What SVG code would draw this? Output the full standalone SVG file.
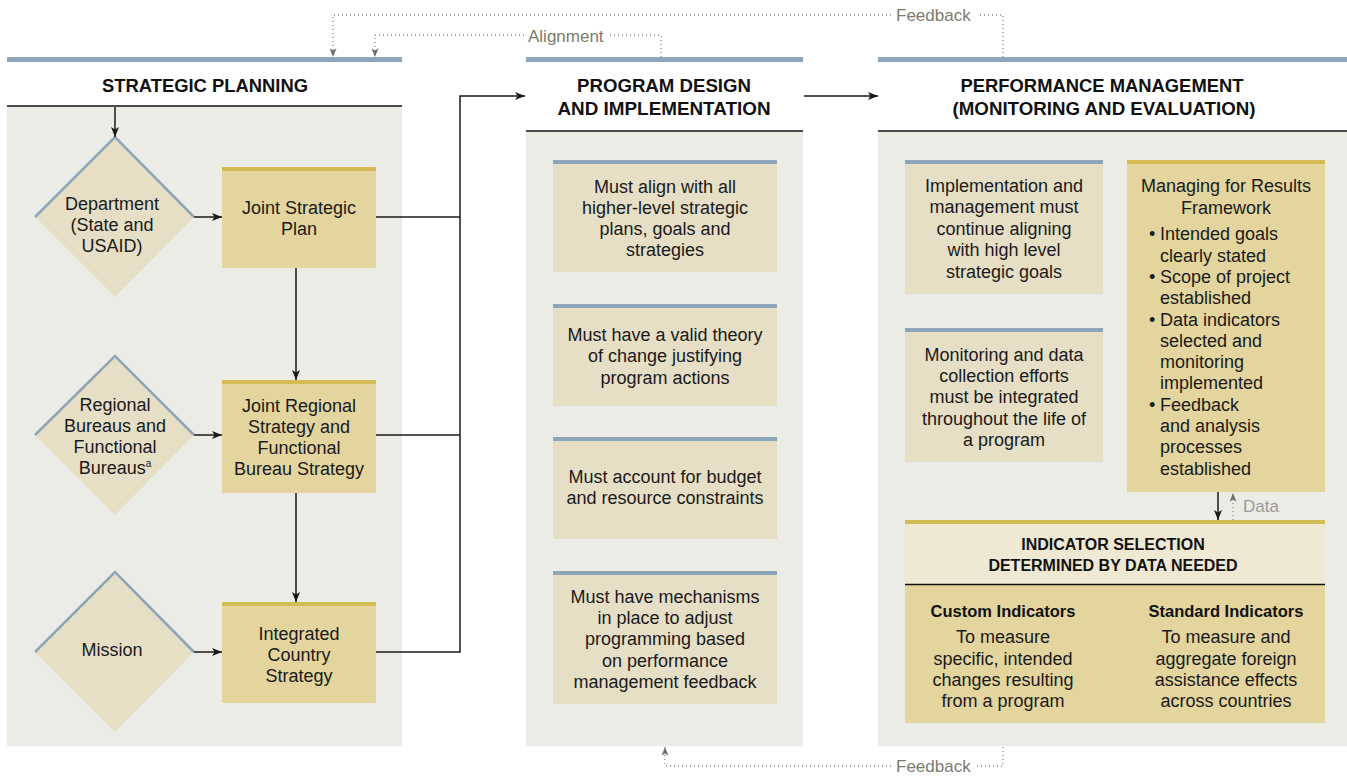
<svg xmlns="http://www.w3.org/2000/svg" width="1347" height="776" viewBox="0 0 1347 776">
<style>
.panel{fill:#ecece7}
.bbar{fill:#8da6b9}
.gbar{fill:#d4bb55}
.tan{fill:#e6dfc6}
.gold{fill:#e3d59d}
.rule{stroke:#111;stroke-width:1.6}
.t{font-family:"Liberation Sans",Arial,sans-serif;font-size:18px;fill:#1a1a1a;text-anchor:middle}
.ts{font-family:"Liberation Sans",Arial,sans-serif;font-size:18px;fill:#1a1a1a}
.h{font-family:"Liberation Sans",Arial,sans-serif;font-size:18.5px;font-weight:bold;fill:#111;text-anchor:middle}
.hb{font-family:"Liberation Sans",Arial,sans-serif;font-size:16px;font-weight:bold;fill:#111;text-anchor:middle}
.sub{font-family:"Liberation Sans",Arial,sans-serif;font-size:16.5px;font-weight:bold;fill:#111;text-anchor:middle}
.lab{font-family:"Liberation Sans",Arial,sans-serif;font-size:17px;fill:#7b7b6e}
.dlab{font-family:"Liberation Sans",Arial,sans-serif;font-size:17px;fill:#9a9a9a}
.con{fill:none;stroke:#1a1a1a;stroke-width:1.5}
.dot{fill:none;stroke:#8a8a8a;stroke-width:1.3;stroke-dasharray:1 3}
.dedge{fill:none;stroke:#8da6b9;stroke-width:2.5}
</style>
<defs>
<marker id="ah" viewBox="0 0 10 8" refX="10" refY="4" markerWidth="10" markerHeight="8" markerUnits="userSpaceOnUse" orient="auto"><path d="M0,0 L10,4 L0,8 L2.5,4 z" fill="#1a1a1a"/></marker>
<marker id="ahg" viewBox="0 0 10 8" refX="10" refY="4" markerWidth="9" markerHeight="7" markerUnits="userSpaceOnUse" orient="auto"><path d="M0,0 L10,4 L0,8 L2.5,4 z" fill="#6e6e6e"/></marker>
</defs>

<g id="col-strategic">
<rect class="bbar" x="7" y="57" width="395" height="5"/>
<text class="h" x="205" y="91.5" textLength="206" lengthAdjust="spacingAndGlyphs">STRATEGIC PLANNING</text>
<line class="rule" x1="7" y1="106" x2="402" y2="106"/>
<rect class="panel" x="7" y="107" width="395" height="639"/>
</g>
<g id="col-program">
<rect class="bbar" x="526" y="57" width="277" height="5"/>
<text class="h" x="664" y="91.5" textLength="174" lengthAdjust="spacingAndGlyphs">PROGRAM DESIGN</text>
<text class="h" x="664" y="114.5" textLength="213" lengthAdjust="spacingAndGlyphs">AND IMPLEMENTATION</text>
<line class="rule" x1="526" y1="131" x2="803" y2="131"/>
<rect class="panel" x="526" y="132" width="277" height="614"/>
</g>
<g id="col-performance">
<rect class="bbar" x="878" y="57" width="469" height="5"/>
<text class="h" x="1102" y="91.5" textLength="283" lengthAdjust="spacingAndGlyphs">PERFORMANCE MANAGEMENT</text>
<text class="h" x="1104" y="114.5" textLength="303" lengthAdjust="spacingAndGlyphs">(MONITORING AND EVALUATION)</text>
<line class="rule" x1="878" y1="131" x2="1347" y2="131"/>
<rect class="panel" x="878" y="132" width="469" height="614"/>
</g>

<g id="department">
<polygon class="tan" points="115,137 194,217 115,297 35,217"/>
<polyline class="dedge" points="35,217 115,137 194,217"/>
<text class="t" x="112" y="210">Department</text>
<text class="t" x="112" y="231">(State and</text>
<text class="t" x="112" y="252">USAID)</text>
</g>
<g id="regional">
<polygon class="tan" points="115,356 194,435 115,515 35,435"/>
<polyline class="dedge" points="35,435 115,356 194,435"/>
<text class="t" x="115" y="411">Regional</text>
<text class="t" x="115" y="432">Bureaus and</text>
<text class="t" x="115" y="453">Functional</text>
<text class="t" x="115" y="474">Bureaus<tspan font-size="10" dy="-7">a</tspan></text>
</g>
<g id="mission">
<polygon class="tan" points="115,572 194,652 115,732 35,652"/>
<polyline class="dedge" points="35,652 115,572 194,652"/>
<text class="t" x="112" y="656">Mission</text>
</g>
<g id="jsp">
<rect class="gold" x="222" y="167" width="154" height="101"/>
<rect class="gbar" x="222" y="167" width="154" height="4"/>
<text class="t" x="299" y="214">Joint Strategic</text>
<text class="t" x="299" y="235">Plan</text>
</g>
<g id="jrs">
<rect class="gold" x="222" y="380" width="154" height="113"/>
<rect class="gbar" x="222" y="380" width="154" height="4"/>
<text class="t" x="299" y="412">Joint Regional</text>
<text class="t" x="299" y="433">Strategy and</text>
<text class="t" x="299" y="454">Functional</text>
<text class="t" x="299" y="475">Bureau Strategy</text>
</g>
<g id="ics">
<rect class="gold" x="222" y="602" width="154" height="101"/>
<rect class="gbar" x="222" y="602" width="154" height="4"/>
<text class="t" x="299" y="640">Integrated</text>
<text class="t" x="299" y="661">Country</text>
<text class="t" x="299" y="682">Strategy</text>
</g>

<g id="pd1">
<rect class="tan" x="553" y="160" width="224" height="112"/>
<rect class="bbar" x="553" y="160" width="224" height="4"/>
<text class="t" x="665" y="193">Must align with all</text>
<text class="t" x="665" y="214">higher-level strategic</text>
<text class="t" x="665" y="235">plans, goals and</text>
<text class="t" x="665" y="256">strategies</text>
</g>
<g id="pd2">
<rect class="tan" x="553" y="304" width="224" height="102"/>
<rect class="bbar" x="553" y="304" width="224" height="4"/>
<text class="t" x="665" y="341">Must have a valid theory</text>
<text class="t" x="665" y="362">of change justifying</text>
<text class="t" x="665" y="384">program actions</text>
</g>
<g id="pd3">
<rect class="tan" x="553" y="437" width="224" height="102"/>
<rect class="bbar" x="553" y="437" width="224" height="4"/>
<text class="t" x="665" y="483">Must account for budget</text>
<text class="t" x="665" y="504">and resource constraints</text>
</g>
<g id="pd4">
<rect class="tan" x="553" y="571" width="224" height="133"/>
<rect class="bbar" x="553" y="571" width="224" height="4"/>
<text class="t" x="665" y="603">Must have mechanisms</text>
<text class="t" x="665" y="624">in place to adjust</text>
<text class="t" x="665" y="645">programming based</text>
<text class="t" x="665" y="667">on performance</text>
<text class="t" x="665" y="688">management feedback</text>
</g>

<g id="pm1">
<rect class="tan" x="905" y="160" width="198" height="134"/>
<rect class="bbar" x="905" y="160" width="198" height="4"/>
<text class="t" x="1004" y="192">Implementation and</text>
<text class="t" x="1004" y="213">management must</text>
<text class="t" x="1004" y="235">continue aligning</text>
<text class="t" x="1004" y="256">with high level</text>
<text class="t" x="1004" y="278">strategic goals</text>
</g>
<g id="pm2">
<rect class="tan" x="905" y="328" width="198" height="134"/>
<rect class="bbar" x="905" y="328" width="198" height="4"/>
<text class="t" x="1004" y="361">Monitoring and data</text>
<text class="t" x="1004" y="382">collection efforts</text>
<text class="t" x="1004" y="403">must be integrated</text>
<text class="t" x="1004" y="425">throughout the life of</text>
<text class="t" x="1004" y="446">a program</text>
</g>
<g id="mfr">
<rect class="gold" x="1127" y="160" width="198" height="332"/>
<rect class="gbar" x="1127" y="160" width="198" height="4"/>
<text class="t" x="1226" y="192">Managing for Results</text>
<text class="t" x="1226" y="214">Framework</text>
<text class="ts" x="1149" y="240">•</text><text class="ts" x="1160" y="240">Intended goals</text>
<text class="ts" x="1160" y="262">clearly stated</text>
<text class="ts" x="1149" y="283">•</text><text class="ts" x="1160" y="283">Scope of project</text>
<text class="ts" x="1160" y="304">established</text>
<text class="ts" x="1149" y="326">•</text><text class="ts" x="1160" y="326">Data indicators</text>
<text class="ts" x="1160" y="347">selected and</text>
<text class="ts" x="1160" y="368">monitoring</text>
<text class="ts" x="1160" y="389">implemented</text>
<text class="ts" x="1149" y="411">•</text><text class="ts" x="1160" y="411">Feedback</text>
<text class="ts" x="1160" y="432">and analysis</text>
<text class="ts" x="1160" y="453">processes</text>
<text class="ts" x="1160" y="475">established</text>
</g>
<g id="indicator">
<rect class="gold" x="905" y="520" width="420" height="203"/>
<rect fill="#efe8d2" x="905" y="524" width="420" height="60"/>
<rect class="gbar" x="905" y="520" width="420" height="4"/>
<line class="rule" x1="905" y1="584.5" x2="1325" y2="584.5"/>
<text class="hb" x="1113" y="550">INDICATOR SELECTION</text>
<text class="hb" x="1113" y="571">DETERMINED BY DATA NEEDED</text>
<text class="sub" x="1003" y="617">Custom Indicators</text>
<text class="t" x="1003" y="643">To measure</text>
<text class="t" x="1003" y="665">specific, intended</text>
<text class="t" x="1003" y="686">changes resulting</text>
<text class="t" x="1003" y="707">from a program</text>
<text class="sub" x="1226" y="617">Standard Indicators</text>
<text class="t" x="1226" y="643">To measure and</text>
<text class="t" x="1226" y="665">aggregate foreign</text>
<text class="t" x="1226" y="686">assistance effects</text>
<text class="t" x="1226" y="707">across countries</text>
</g>

<g id="connectors">
<path class="con" d="M115,107 V137" marker-end="url(#ah)"/>
<path class="con" d="M194,217 H222" marker-end="url(#ah)"/>
<path class="con" d="M194,435 H222" marker-end="url(#ah)"/>
<path class="con" d="M194,652 H222" marker-end="url(#ah)"/>
<path class="con" d="M296,268 V380" marker-end="url(#ah)"/>
<path class="con" d="M296,493 V602" marker-end="url(#ah)"/>
<path class="con" d="M376,217 H460"/>
<path class="con" d="M376,435 H460"/>
<path class="con" d="M376,652 H460 V96 H525" marker-end="url(#ah)"/>
<path class="con" d="M804,96 H878" marker-end="url(#ah)"/>
<path class="con" d="M1218,492 V520" marker-end="url(#ah)"/>
<path class="dot" d="M1233,520 V493" marker-end="url(#ahg)"/>
<text class="dlab" x="1243" y="512">Data</text>
<path class="dot" d="M1003,57 V15 H977"/>
<path class="dot" d="M891,15 H333 V57" marker-end="url(#ahg)"/>
<text class="lab" x="896" y="21">Feedback</text>
<path class="dot" d="M661,57 V35 H610"/>
<path class="dot" d="M524,35 H375 V57" marker-end="url(#ahg)"/>
<text class="lab" x="528" y="42">Alignment</text>
<path class="dot" d="M1003,747 V766 H977"/>
<path class="dot" d="M891,766 H665 V747" marker-end="url(#ahg)"/>
<text class="lab" x="896" y="772">Feedback</text>
</g>
</svg>
